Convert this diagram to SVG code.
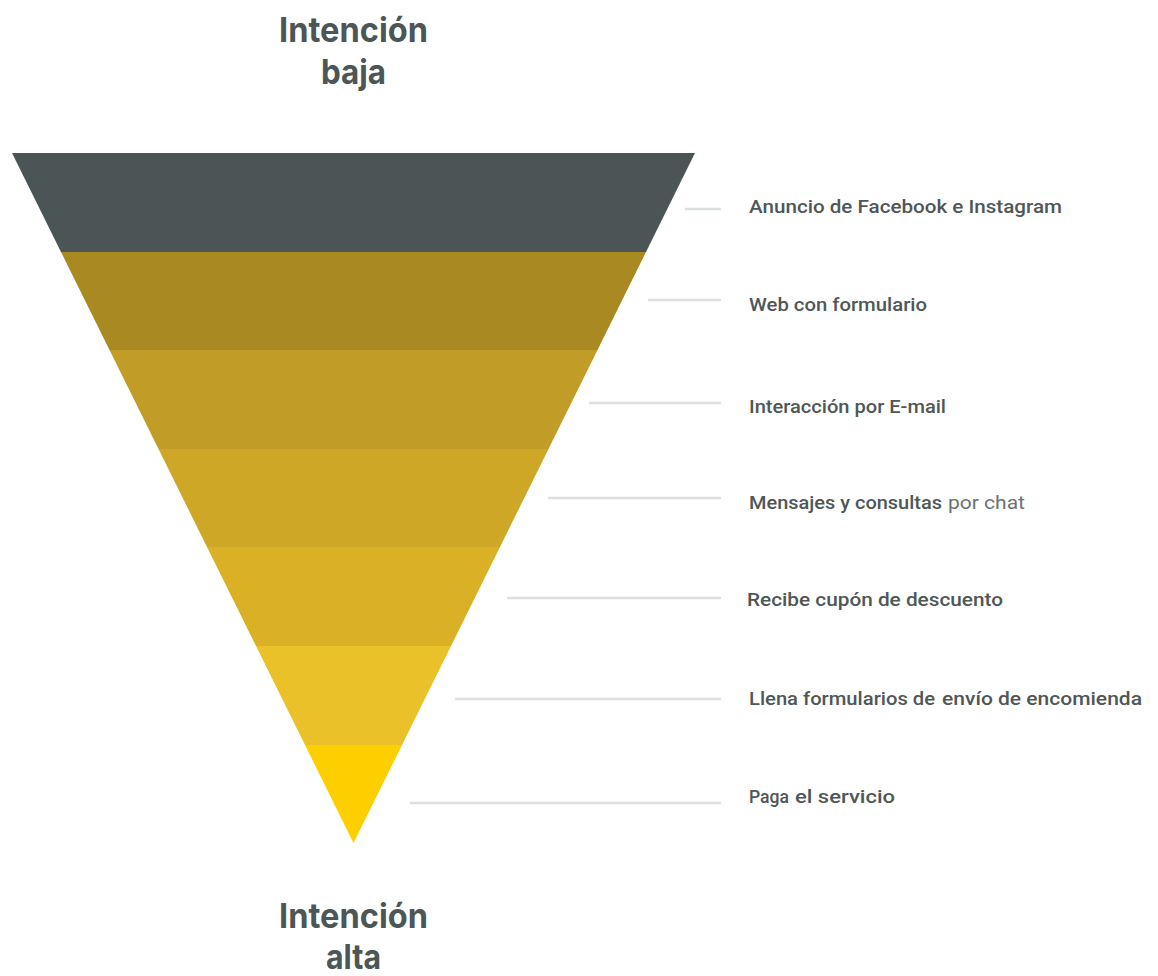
<svg xmlns="http://www.w3.org/2000/svg" width="1158" height="976" viewBox="0 0 1158 976">
<style>
.title{font-family:"Inter","Roboto","Liberation Sans",sans-serif;font-weight:700;font-size:34px;fill:#4d5656;text-anchor:middle}
.lbl{font-family:"Roboto","Liberation Sans",sans-serif;font-size:19px;fill:#4f5757;font-weight:500}
.alt{fill:#6a7276;font-weight:400}
.con line{stroke:#dcdfdf;stroke-width:2.5}
</style>
<rect width="1158" height="976" fill="#ffffff"/>
<g id="title-top"><text class="title" x="353.5" y="42" textLength="149" lengthAdjust="spacingAndGlyphs">Intención</text><text class="title" x="353.5" y="84" textLength="65" lengthAdjust="spacingAndGlyphs">baja</text></g>
<g id="title-bottom"><text class="title" x="353.5" y="928" textLength="149" lengthAdjust="spacingAndGlyphs">Intención</text><text class="title" x="353.5" y="969" textLength="55" lengthAdjust="spacingAndGlyphs">alta</text></g>
<g id="funnel">
<polygon id="band1" points="12,153 695,153 646,252 61,252" fill="#4c5556"/>
<polygon id="band2" points="61,252 646,252 597.5,350 109.5,350" fill="#a98a22"/>
<polygon id="band3" points="109.5,350 597.5,350 548.5,449 158.5,449" fill="#c19d28"/>
<polygon id="band4" points="158.5,449 548.5,449 500,547 207,547" fill="#cea726"/>
<polygon id="band5" points="207,547 500,547 451,646 256,646" fill="#dab124"/>
<polygon id="band6" points="256,646 451,646 402,745 305,745" fill="#ebc12a"/>
<polygon id="band7" points="305,745 402,745 353.5,843" fill="#fecf00"/>
</g>
<g id="connectors" class="con">
<line x1="685" y1="209" x2="721" y2="209"/>
<line x1="648" y1="300" x2="721" y2="300"/>
<line x1="589" y1="403" x2="721" y2="403"/>
<line x1="548" y1="498" x2="721" y2="498"/>
<line x1="507" y1="598" x2="721" y2="598"/>
<line x1="455" y1="699" x2="721" y2="699"/>
<line x1="410" y1="803" x2="721" y2="803"/>
</g>
<g id="label1"><text class="lbl" x="749" y="213" textLength="313" lengthAdjust="spacingAndGlyphs">Anuncio de Facebook e Instagram</text></g>
<g id="label2"><text class="lbl" x="749" y="311" textLength="178" lengthAdjust="spacingAndGlyphs">Web con formulario</text></g>
<g id="label3"><text class="lbl" x="749" y="413" textLength="197" lengthAdjust="spacingAndGlyphs">Interacción por E-mail</text></g>
<g id="label4"><text class="lbl" x="749" y="509"><tspan textLength="193" lengthAdjust="spacingAndGlyphs">Mensajes y consultas</tspan><tspan class="alt" x="948" textLength="77" lengthAdjust="spacingAndGlyphs">por chat</tspan></text></g>
<g id="label5"><text class="lbl" x="747" y="606" textLength="256" lengthAdjust="spacingAndGlyphs">Recibe cupón de descuento</text></g>
<g id="label6"><text class="lbl" x="749" y="705"><tspan textLength="186" lengthAdjust="spacingAndGlyphs">Llena formularios de</tspan><tspan x="942" textLength="200" lengthAdjust="spacingAndGlyphs">envío de encomienda</tspan></text></g>
<g id="label7"><text class="lbl" x="749" y="803"><tspan textLength="40" lengthAdjust="spacingAndGlyphs">Paga</tspan><tspan x="795" textLength="100" lengthAdjust="spacingAndGlyphs">el servicio</tspan></text></g>
</svg>
